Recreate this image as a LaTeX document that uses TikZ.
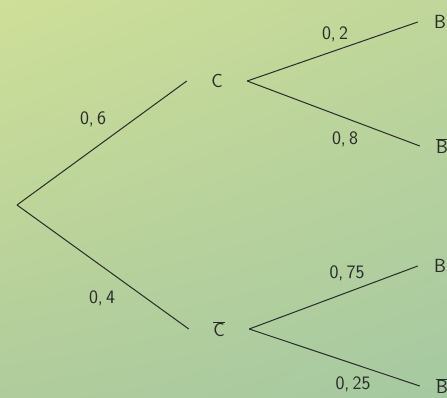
\documentclass[tikz,border=0pt]{standalone}
\usepackage{tikz}
\usetikzlibrary{shadings}
\definecolor{bgTL}{RGB}{206,223,152}
\definecolor{bgTR}{RGB}{192,214,154}
\definecolor{bgBL}{RGB}{176,204,156}
\definecolor{bgBR}{RGB}{166,201,162}
\definecolor{ink}{RGB}{40,44,40}
\tikzset{
  lbl/.style={font=\sffamily\fontsize{19}{19}\selectfont, text=ink, inner sep=0pt},
  ev/.style={font=\sffamily\fontsize{19}{19}\selectfont, text=ink, inner sep=0pt},
  mid/.style={ev, minimum width=60pt, minimum height=16pt},
  leaf/.style={ev, minimum width=44pt, minimum height=16pt},
  br/.style={draw=ink, line width=1pt},
}
\begin{document}
\begin{tikzpicture}[x=1pt,y=-1pt]
\shade[upper left=bgTL, upper right=bgTR, lower left=bgBL, lower right=bgBR] (0,0) rectangle (447,397);
\useasboundingbox (0,0) rectangle (447,397);
\coordinate (root) at (17,205);
\node[mid] (C) at (217,81) {C};
\node[mid] (Cb) at (219,329) {$\overline{\mbox{C}}$};
\node[leaf] (B1) at (440,22) {B};
\node[leaf] (B2) at (442,146) {$\overline{\mbox{B}}$};
\node[leaf] (B3) at (440,266) {B};
\node[leaf] (B4) at (442,386) {$\overline{\mbox{B}}$};
\draw[br] (root) -- (C.west);
\draw[br] (root) -- (Cb.west);
\draw[br] (C.east) -- (B1.west);
\draw[br] (C.east) -- (B2.west);
\draw[br] (Cb.east) -- (B3.west);
\draw[br] (Cb.east) -- (B4.west);
\node[lbl] (p1) at (93,119) {0,\,6};
\node[lbl] (p2) at (102,298) {0,\,4};
\node[lbl] (p3) at (335,34) {0,\,2};
\node[lbl] (p4) at (345,139) {0,\,8};
\node[lbl] (p5) at (347,273) {0,\,75};
\node[lbl] (p6) at (353,384) {0,\,25};
\end{tikzpicture}
\end{document}
